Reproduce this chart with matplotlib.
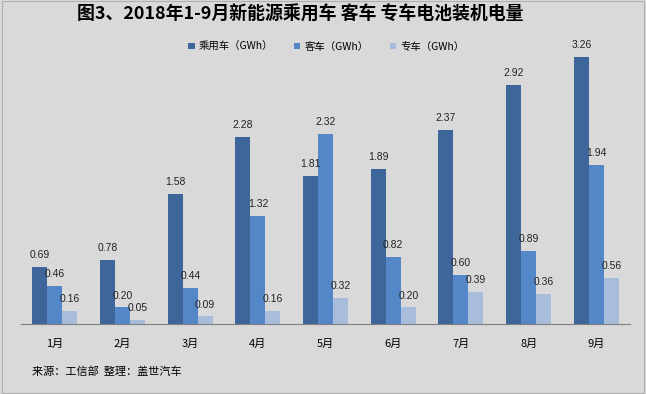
import numpy as np
import matplotlib.pyplot as plt
from matplotlib.patches import Rectangle

plt.rcParams['font.family'] = ['Noto Sans CJK SC', 'DejaVu Sans']

months = ['1月', '2月', '3月', '4月', '5月', '6月', '7月', '8月', '9月']
passenger = [0.69, 0.78, 1.58, 2.28, 1.81, 1.89, 2.37, 2.92, 3.26]
bus = [0.46, 0.20, 0.44, 1.32, 2.32, 0.82, 0.60, 0.89, 1.94]
special = [0.16, 0.05, 0.09, 0.16, 0.32, 0.20, 0.39, 0.36, 0.56]
series_names = ['乘用车（GWh）', '客车（GWh）', '专车（GWh）']
colors = ['#3e669b', '#5387c8', '#a8bddc']

fig = plt.figure(figsize=(6.46, 3.94), dpi=100)
fig.patch.set_facecolor('#d9d9d9')
fig.patches.append(Rectangle((0.003, 0.003), 0.994, 0.994, transform=fig.transFigure,
                             fill=False, edgecolor='#b0b0b0', linewidth=0.8))

ax = fig.add_axes([0.0325, 0.178, 0.943, 0.728])
ax.set_facecolor('#d9d9d9')

x = np.arange(len(months))
w = 0.222
for i, (vals, name, c) in enumerate(zip([passenger, bus, special], series_names, colors)):
    pos = x + (i - 1) * w
    ax.bar(pos, vals, width=w, color=c, label=name)
    for px, v in zip(pos, vals):
        ax.annotate(f'{v:.2f}', (px, v), xytext=(0, 5), textcoords='offset points',
                    ha='center', va='bottom', fontsize=7.5, color='#222222',
                    family='Liberation Sans')

ax.set_xlim(-0.5, 8.5)
ax.set_ylim(0, 3.5)
ax.set_yticks([])
ax.set_xticks(x)
ax.set_xticklabels(months, fontsize=8)
ax.tick_params(axis='x', length=0, pad=11)
for s in ['top', 'right', 'left']:
    ax.spines[s].set_visible(False)
ax.spines['bottom'].set_color('#7f7f7f')

fig.text(0.465, 0.962, '图3、2018年1-9月新能源乘用车 客车 专车电池装机电量',
         ha='center', va='center', fontsize=12.9, fontweight='bold')
fig.legend(loc='center', bbox_to_anchor=(0.505, 0.882), ncol=3, frameon=False,
           fontsize=7.5, handlelength=0.6, handleheight=0.6, columnspacing=2.0,
           handletextpad=0.4)
fig.text(0.05, 0.058, '来源：工信部  整理：盖世汽车', fontsize=8, ha='left', va='center',
         style='italic')

fig.savefig('out.png', dpi=100, facecolor=fig.get_facecolor())
